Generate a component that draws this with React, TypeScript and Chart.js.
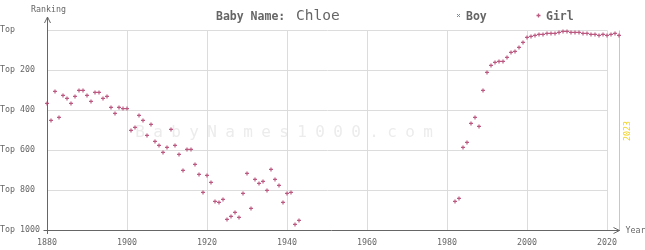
import { useEffect, useRef } from 'react';
import { Chart, registerables } from 'chart.js';
Chart.register(...registerables);

const girlYears = [
  1880, 1881, 1882, 1883, 1884, 1885, 1886, 1887, 1888, 1889,
  1890, 1891, 1892, 1893, 1894, 1895, 1896, 1897, 1898, 1899,
  1900, 1901, 1902, 1903, 1904, 1905, 1906, 1907, 1908, 1909,
  1910, 1911, 1912, 1913, 1914, 1915, 1916, 1917, 1918, 1919,
  1920, 1921, 1922, 1923, 1924, 1925, 1926, 1927, 1928, 1929,
  1930, 1931, 1932, 1933, 1934, 1935, 1936, 1937, 1938, 1939,
  1940, 1941, 1942, 1943,
  1982, 1983, 1984, 1985, 1986, 1987, 1988, 1989,
  1990, 1991, 1992, 1993, 1994, 1995, 1996, 1997, 1998, 1999,
  2000, 2001, 2002, 2003, 2004, 2005, 2006, 2007, 2008, 2009,
  2010, 2011, 2012, 2013, 2014, 2015, 2016, 2017, 2018, 2019,
  2020, 2021, 2022, 2023,
];
const girlRanks = [
  367, 452, 307, 437, 327, 342, 367, 332, 302, 302,
  327, 357, 312, 312, 342, 332, 387, 417, 387, 393,
  393, 502, 487, 427, 452, 527, 472, 557, 577, 612,
  587, 497, 577, 622, 702, 597, 597, 672, 722, 812,
  727, 762, 857, 862, 847, 947, 932, 912, 937, 817,
  717, 892, 747, 767, 757, 802, 697, 747, 777, 862,
  817, 812, 972, 952,
  857, 842, 587, 562, 467, 437, 482, 302,
  212, 177, 162, 157, 157, 137, 112, 107, 87, 62,
  37, 32, 27, 22, 22, 17, 17, 17, 12, 7,
  7, 12, 12, 12, 17, 17, 22, 22, 27, 22,
  27, 22, 17, 27,
];
const boyYears: number[] = [];
const boyRanks: number[] = [];

const xTicks = [1880, 1900, 1920, 1940, 1960, 1980, 2000, 2020];
const yTicks = [0, 200, 400, 600, 800, 1000];
const yTickLabels = ['Top', 'Top 200', 'Top 400', 'Top 600', 'Top 800', 'Top 1000'];
const babyName = 'Chloe';
const currentYear = 2023;
const watermark = 'BabyNames1000.com';

const GIRL = '#bd5a82';
const BOY = '#7d8ca3';
const GRID = '#dcdcdc';
const AXIS = '#666666';
const TEXT = '#666666';
const YELLOW = '#f2d21a';
const MONO = '"DejaVu Sans Mono", "Liberation Mono", monospace';

const decorPlugin = {
  id: 'decor',
  beforeDatasetsDraw(chart: any) {
    const ctx = chart.ctx;
    const xs = chart.scales.x;
    const ys = chart.scales.y;
    const px = (v: number) => Math.floor(xs.getPixelForValue(v)) + 0.5;
    const py = (v: number) => Math.floor(ys.getPixelForValue(v)) + 0.5;
    const xL = px(xTicks[0]);
    const xR = px(xTicks[xTicks.length - 1]);
    ctx.save();
    // watermark
    ctx.fillStyle = '#ececec';
    ctx.font = `16px ${MONO}`;
    ctx.textAlign = 'center';
    ctx.textBaseline = 'middle';
    for (let i = 0; i < watermark.length; i++) {
      ctx.fillText(watermark[i], 140 + 18 * i, 133);
    }
    // grid
    ctx.strokeStyle = GRID;
    ctx.lineWidth = 1;
    ctx.beginPath();
    yTicks.forEach((t) => {
      if (t === 1000) return;
      const y = py(t);
      ctx.moveTo(xL, y);
      ctx.lineTo(xR, y);
    });
    xTicks.forEach((t) => {
      const x = px(t);
      ctx.moveTo(x, py(0));
      ctx.lineTo(x, py(1000));
    });
    ctx.stroke();
    // current year line
    const xc = px(currentYear);
    ctx.strokeStyle = YELLOW;
    ctx.beginPath();
    ctx.moveTo(xc, py(0));
    ctx.lineTo(xc, py(1000));
    ctx.stroke();
    ctx.save();
    ctx.translate(xc + 8, 131);
    ctx.rotate(-Math.PI / 2);
    ctx.fillStyle = YELLOW;
    ctx.font = `8.3px ${MONO}`;
    ctx.textAlign = 'center';
    ctx.textBaseline = 'middle';
    ctx.fillText(String(currentYear), 0, 0);
    ctx.restore();
    ctx.restore();
  },
  afterDatasetsDraw(chart: any) {
    const ctx = chart.ctx;
    const xs = chart.scales.x;
    const ys = chart.scales.y;
    const px = (v: number) => Math.floor(xs.getPixelForValue(v)) + 0.5;
    const py = (v: number) => Math.floor(ys.getPixelForValue(v)) + 0.5;
    const x0 = px(xTicks[0]);
    const yB = py(1000);
    const xEnd = px(currentYear);
    ctx.save();
    ctx.strokeStyle = AXIS;
    ctx.lineWidth = 1;
    ctx.beginPath();
    // y axis
    ctx.moveTo(x0, 17);
    ctx.lineTo(x0, 234);
    // y arrow
    ctx.moveTo(x0 - 3, 23);
    ctx.lineTo(x0, 17);
    ctx.lineTo(x0 + 3, 23);
    // x axis
    ctx.moveTo(x0 - 4, yB);
    ctx.lineTo(xEnd, yB);
    // x arrow
    ctx.moveTo(xEnd - 6, yB - 3);
    ctx.lineTo(xEnd, yB);
    ctx.lineTo(xEnd - 6, yB + 3);
    ctx.stroke();

    ctx.fillStyle = TEXT;
    ctx.font = `8.3px ${MONO}`;
    ctx.textBaseline = 'middle';
    ctx.textAlign = 'left';
    yTicks.forEach((t, i) => {
      ctx.fillText(yTickLabels[i], 0, ys.getPixelForValue(t));
    });
    ctx.textAlign = 'center';
    xTicks.forEach((t) => {
      ctx.fillText(String(t), xs.getPixelForValue(t), 242.5);
    });
    ctx.fillText('Ranking', x0 + 1, 9.5);
    ctx.textAlign = 'left';
    ctx.fillText('Year', xEnd + 6, yB);

    // title
    ctx.font = `bold 11.5px ${MONO}`;
    ctx.fillText('Baby Name:', 216, 17.5);
    ctx.font = `14.5px ${MONO}`;
    ctx.fillText(babyName, 296, 16.5);

    // legend
    ctx.font = `bold 11.5px ${MONO}`;
    ctx.fillText('Boy', 466, 17.5);
    ctx.fillText('Girl', 546, 17.5);
    ctx.lineWidth = 1;
    ctx.strokeStyle = BOY;
    ctx.beginPath();
    ctx.moveTo(457, 14);
    ctx.lineTo(460, 17);
    ctx.moveTo(460, 14);
    ctx.lineTo(457, 17);
    ctx.stroke();
    ctx.strokeStyle = GIRL;
    ctx.lineWidth = 1.3;
    ctx.beginPath();
    ctx.moveTo(536.5, 15.5);
    ctx.lineTo(540.5, 15.5);
    ctx.moveTo(538.5, 13.5);
    ctx.lineTo(538.5, 17.5);
    ctx.stroke();
    ctx.restore();
  },
};

export default function App() {
  const ref = useRef<HTMLCanvasElement>(null);
  useEffect(() => {
    if (!ref.current) return;
    const chart = new Chart(ref.current, {
      type: 'scatter',
      data: {
        datasets: [
          {
            label: 'Boy',
            data: boyYears.map((y, i) => ({ x: y, y: boyRanks[i] })),
            pointStyle: 'crossRot',
            radius: 1.5,
            borderColor: BOY,
            backgroundColor: BOY,
            borderWidth: 1,
          },
          {
            label: 'Girl',
            data: girlYears.map((y, i) => ({ x: y, y: girlRanks[i] })),
            pointStyle: 'cross',
            radius: 2,
            borderColor: GIRL,
            backgroundColor: GIRL,
            borderWidth: 1.2,
            clip: false as any,
          },
        ],
      },
      options: {
        animation: false,
        responsive: false,
        events: [],
        layout: { padding: { left: 47, right: 26, top: 30, bottom: 20 } },
        plugins: { legend: { display: false }, tooltip: { enabled: false }, title: { display: false } },
        scales: {
          x: { type: 'linear', min: 1880, max: 2023, display: false },
          y: { type: 'linear', min: 0, max: 1000, reverse: true, display: false },
        },
      },
      plugins: [decorPlugin],
    });
    return () => chart.destroy();
  }, []);
  return (
    <div style={{ position: 'fixed', left: 0, top: 0, width: 645, height: 250, background: '#fff' }}>
      <canvas ref={ref} width={645} height={250} style={{ width: 645, height: 250, display: 'block' }} />
    </div>
  );
}
